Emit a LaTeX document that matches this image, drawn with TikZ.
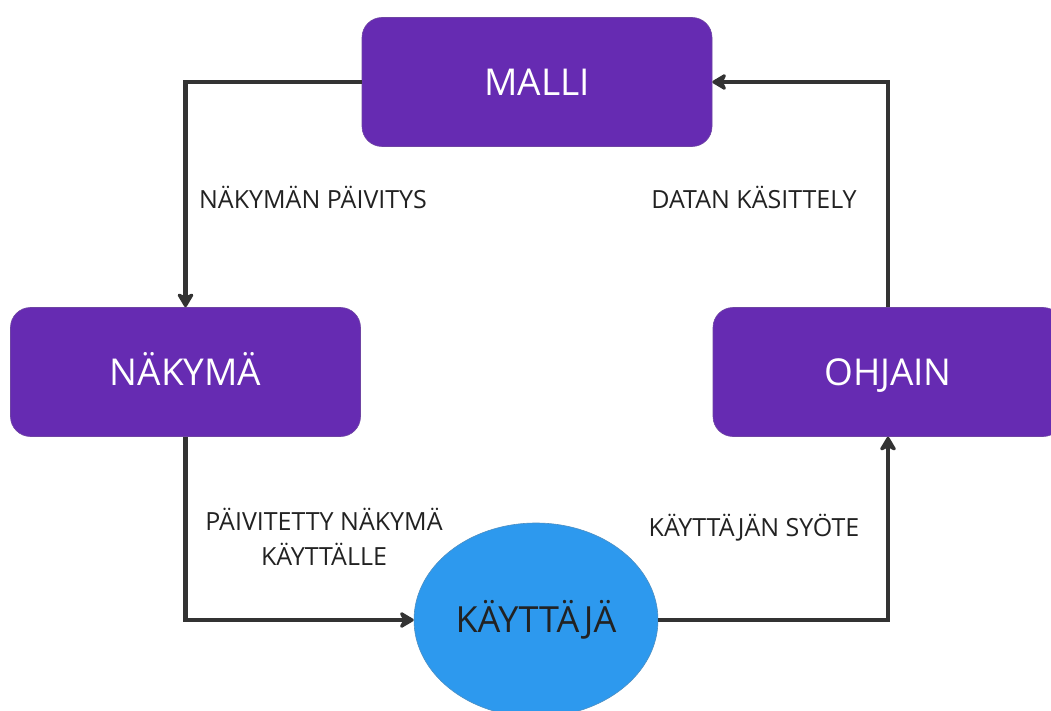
\documentclass[tikz,border=0pt]{standalone}
\usepackage{fontspec}
\setmainfont{Open Sans}
\usetikzlibrary{arrows.meta,shapes.geometric}
\definecolor{boxpurple}{HTML}{662BB2}
\definecolor{userblue}{HTML}{2D99EE}
\definecolor{linegray}{HTML}{333333}
\definecolor{textdark}{HTML}{222222}
\tikzset{
  box/.style={rectangle, rounded corners=20pt, fill=boxpurple, draw=boxpurple!70!gray, line width=0.6pt,
    minimum width=350pt, minimum height=129pt, text=white, font=\fontsize{37}{44}\selectfont, inner sep=0pt,
    text height=26.4pt, text depth=0pt},
  user/.style={ellipse, fill=userblue, draw=userblue!60!gray, line width=0.6pt,
    minimum width=244pt, minimum height=194pt, text=textdark, font=\fontsize{36}{43}\selectfont, inner sep=0pt,
    text height=25.7pt, text depth=0pt},
  conn/.style={draw=linegray, line width=4.5pt, -{Stealth[length=17pt,width=20pt,inset=5pt,round]}},
  lbl/.style={text=textdark, font=\fontsize{25}{34.5}\selectfont, align=center, inner sep=0pt},
  lbl1/.style={lbl, text height=17.85pt, text depth=0pt}
}
\begin{document}
\begin{tikzpicture}[x=1pt,y=-1pt]
\clip (0,0) rectangle (1051,711);
\fill[white] (0,0) rectangle (1051,711);
\node[box] (malli) at (537,82) {MALLI};
\node[box] (nakyma) at (185.5,372) {NÄKYMÄ};
\node[box] (ohjain) at (888,372) {OHJAIN};
\node[user] (kayttaja) at (536,620) {KÄYTTÄJÄ};
\draw[conn] (malli.west) -| (nakyma.north);
\draw[conn] (nakyma.south) |- (kayttaja.west);
\draw[conn] (kayttaja.east) -| (ohjain.south);
\draw[conn] (ohjain.north) |- (malli.east);
\node[lbl1] (l1) at (313,200) {NÄKYMÄN PÄIVITYS};
\node[lbl1] (l2) at (754,200) {DATAN KÄSITTELY};
\node[lbl] (l3) at (324,537) {PÄIVITETTY NÄKYMÄ\\KÄYTTÄLLE};
\node[lbl1] (l4) at (754,528) {KÄYTTÄJÄN SYÖTE};
\end{tikzpicture}
\end{document}
